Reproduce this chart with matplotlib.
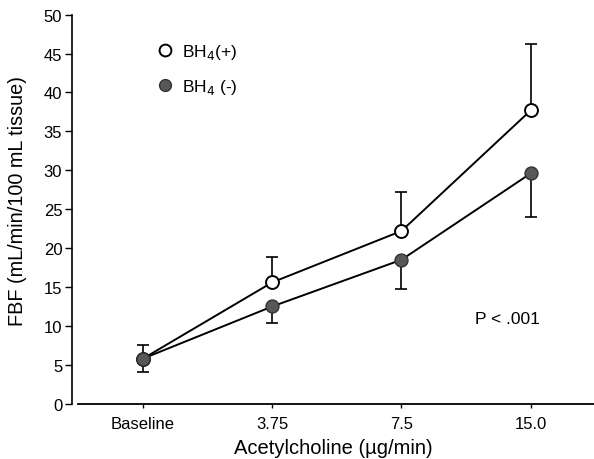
import matplotlib.pyplot as plt
from matplotlib.lines import Line2D

plt.rcParams['font.family'] = ['Liberation Sans', 'DejaVu Sans']

doses = ["Baseline", "3.75", "7.5", "15.0"]
fbf_plus = [5.8, 15.6, 22.2, 37.7]
fbf_plus_err = [1.8, 3.3, 5.0, 8.5]
fbf_minus = [5.8, 12.5, 18.5, 29.6]
fbf_minus_err = [1.7, 2.1, 3.8, 5.6]

x = list(range(len(doses)))

fig = plt.figure(figsize=(5.94, 4.6), dpi=100)
ax = fig.add_axes([0.1212, 0.1202, 0.8788, 0.8457])

# error bars: (+) goes up, (-) goes down
ax.errorbar(x, fbf_minus, yerr=[fbf_minus_err, [0]*4], fmt="none", ecolor="black",
            elinewidth=1.2, capsize=4.6, capthick=1.2, zorder=1)
ax.errorbar(x, fbf_plus, yerr=[[0]*4, fbf_plus_err], fmt="none", ecolor="black",
            elinewidth=1.2, capsize=4.6, capthick=1.2, zorder=1)

ax.plot(x, fbf_plus, color="black", lw=1.4, marker="o", markersize=9.3,
        markerfacecolor="white", markeredgecolor="black", markeredgewidth=1.4, zorder=3)
ax.plot(x, fbf_minus, color="black", lw=1.4, marker="o", markersize=9.3,
        markerfacecolor="#585858", markeredgecolor="#333333", markeredgewidth=1.0, zorder=4)

ax.set_xlim(-0.55, 3.49)
ax.set_ylim(0, 50)
ax.set_yticks(range(0, 51, 5))
ax.set_xticks(x)
ax.set_xticklabels(doses)
ax.tick_params(axis="both", labelsize=12, width=1, direction="out", colors="black")
ax.tick_params(axis="y", length=5, pad=2)
ax.tick_params(axis="x", length=3, pad=6)

for s in ["top", "right"]:
    ax.spines[s].set_visible(False)
ax.spines["left"].set_linewidth(1.2)
ax.spines["bottom"].set_linewidth(1.3)
ax.spines["bottom"].set_bounds(-0.5, 3.49)

ax.set_xlabel("Acetylcholine (\u00b5g/min)", fontsize=14.5, labelpad=5)
ax.set_ylabel("FBF (mL/min/100 mL tissue)", fontsize=14.3)
ax.yaxis.set_label_coords(-0.086, 0.524)

ax.text(2.57, 11.0, "P < .001", fontsize=12.5, va="center", ha="left")

handles = [
    Line2D([], [], ls="none", marker="o", markersize=8.5, markerfacecolor="white",
           markeredgecolor="black", markeredgewidth=1.4),
    Line2D([], [], ls="none", marker="o", markersize=8.5, markerfacecolor="#585858",
           markeredgecolor="#333333"),
]
ax.legend(handles, ["BH$_4$(+)", "BH$_4$ (-)"], loc="upper left",
          bbox_to_anchor=(0.128, 0.97), frameon=False, fontsize=12.5,
          handletextpad=0.4, labelspacing=0.95, handlelength=1.2)

fig.savefig("out.png", dpi=100)
